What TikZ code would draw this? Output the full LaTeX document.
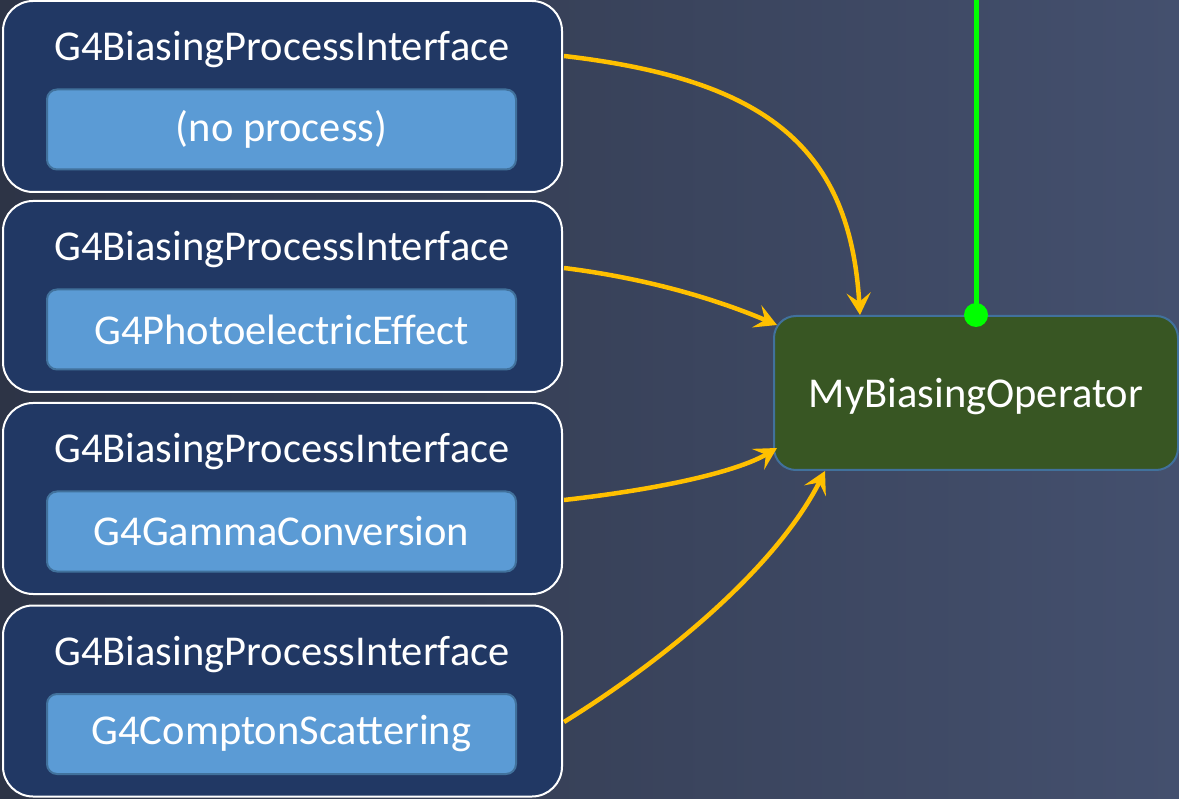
\documentclass[tikz,border=0pt]{standalone}
\usepackage{fontspec}
\setmainfont{Carlito}
\usetikzlibrary{arrows.meta}
\definecolor{bgL}{RGB}{45,52,70}
\definecolor{bgR}{RGB}{68,80,110}
\definecolor{outerfill}{RGB}{33,56,100}
\definecolor{innerfill}{RGB}{91,155,213}
\definecolor{innerdraw}{RGB}{65,113,156}
\definecolor{opfill}{RGB}{56,86,35}
\definecolor{opdraw}{RGB}{65,113,156}
\definecolor{arrowc}{RGB}{255,192,0}
\definecolor{greenc}{RGB}{0,255,0}
\tikzset{
  outerbox/.style={draw=white, line width=2pt, fill=outerfill, rounded corners=30pt,
    minimum width=559pt, minimum height=191pt, inner sep=0pt},
  innerbox/.style={draw=innerdraw, line width=2pt, fill=innerfill, rounded corners=10pt,
    minimum width=469pt, minimum height=80pt, inner sep=0pt, text=white,
    font=\fontsize{42.5pt}{48pt}\selectfont},
  titletext/.style={text=white, font=\fontsize{42.5pt}{48pt}\selectfont, inner sep=0pt},
  opbox/.style={draw=opdraw, line width=2pt, fill=opfill, rounded corners=22pt,
    minimum width=404pt, minimum height=154pt, inner sep=0pt, text=white,
    font=\fontsize{42.5pt}{48pt}\selectfont},
  optext/.style={text=white, font=\fontsize{42.5pt}{48pt}\selectfont, inner sep=0pt},
  link/.style={draw=arrowc, line width=4.5pt, -{Stealth[length=22pt, width=24pt, inset=9pt]}},
}
\begin{document}
\begin{tikzpicture}[x=1pt, y=-1pt]
\useasboundingbox (0,0) rectangle (1179,799);
\shade[left color=bgL, right color=bgR] (0,0) rectangle (1179,799);
% outer boxes
\foreach \i/\yc/\proc in {1/96.5/{(no process)}, 2/296.5/G4PhotoelectricEffect, 3/498.5/G4GammaConversion, 4/701/G4ComptonScattering}{
  \node[outerbox] (o\i) at (282.5,\yc) {};
  \node[titletext, anchor=base] (t\i) at (282,\yc-36) {G4BiasingProcessInterface};
  \node[innerbox] (p\i) at (281.5,\yc+33) {\proc};
}
\node[opbox] (op) at (976,393) {};
\node[optext, anchor=base] (opt) at (976,408) {MyBiasingOperator};
\coordinate (gtop) at (976,0);
\draw[greenc, line width=5pt] (gtop) -- (op.north);
\fill[greenc] (op.north) circle (12pt);
\coordinate (a1) at (564,56);
\coordinate (a2) at (564,268);
\coordinate (a3) at (564,500);
\coordinate (a4) at (564,722);
\draw[link] (a1) .. controls (770,80) and (850,150) .. (op.north west -| 860,0);
\draw[link] (a2) .. controls (660,280) and (730,305) .. ([xshift=4pt,yshift=-10pt]op.north west);
\draw[link] (a3) .. controls (670,488) and (740,470) .. ([xshift=4pt,yshift=23pt]op.south west);
\draw[link] (a4) .. controls (680,650) and (780,560) .. ([xshift=52pt]op.south west);
\end{tikzpicture}
\end{document}
